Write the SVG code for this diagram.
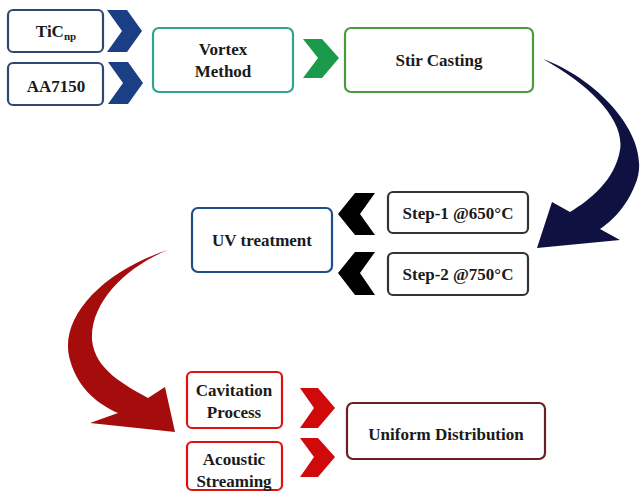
<svg xmlns="http://www.w3.org/2000/svg" width="643" height="492" viewBox="0 0 643 492">
<style>
.box{fill:#fff;stroke-width:2.2}
.t{font-family:"Liberation Serif","DejaVu Serif",serif;font-weight:bold;font-size:17px;fill:#1a1a1a;text-anchor:middle}
</style>
<rect width="643" height="492" fill="#fff"/>
<g id="connectors">
  <polygon points="107,10 127,10 142,31 127,52 107,52 122,31" fill="#1b3f85"/>
  <polygon points="108,62 128,62 143,83 128,104 108,104 123,83" fill="#1b3f85"/>
  <polygon points="303,39 322,39 339,58 322,78 303,78 318,58" fill="#1a9a4a"/>
  <path d="M543,59 C600,80 655,140 635,185 C625,210 610,222 600,229 L620,240 L537,248 L552,202 L570,212 C590,200 615,180 620,150 C625,120 590,85 543,59 Z" fill="#0f1240"/>
  <polygon points="375,193 355,193 338,214 355,235 375,235 360,214" fill="#000"/>
  <polygon points="375,252 355,252 338,273 355,295 375,295 360,273" fill="#000"/>
  <path d="M168,250 C100,272 58,320 70,360 C78,390 100,405 118,413 L90,423 L175,432 L165,387 L148,398 C125,385 95,370 92,340 C90,300 130,265 168,250 Z" fill="#a50d0d"/>
  <polygon points="300,388 318,388 335,408 318,428 300,428 314,408" fill="#d00a0a"/>
  <polygon points="300,438 318,438 335,457 318,477 300,477 314,457" fill="#d00a0a"/>
</g>
<g id="tic">
  <rect class="box" x="8" y="10" width="95" height="42" rx="5" stroke="#2d4a6e"/>
  <text class="t" x="56" y="37">TiC<tspan font-size="11" dy="3">np</tspan></text>
</g>
<g id="aa7150">
  <rect class="box" x="8" y="63" width="95" height="42" rx="5" stroke="#2d4a6e"/>
  <text class="t" x="56" y="92">AA7150</text>
</g>
<g id="vortex">
  <rect class="box" x="153" y="28" width="140" height="64" rx="6" stroke="#2ea58e"/>
  <text class="t" x="223" y="55">Vortex</text>
  <text class="t" x="223" y="77">Method</text>
</g>
<g id="stir">
  <rect class="box" x="345" y="28" width="188" height="64" rx="6" stroke="#4c9a3a"/>
  <text class="t" x="439" y="66">Stir Casting</text>
</g>
<g id="step1">
  <rect class="box" x="388" y="192" width="140" height="41" rx="5" stroke="#333"/>
  <text class="t" x="458" y="219">Step-1 @650°C</text>
</g>
<g id="step2">
  <rect class="box" x="388" y="253" width="140" height="42" rx="5" stroke="#333"/>
  <text class="t" x="458" y="280">Step-2 @750°C</text>
</g>
<g id="uv">
  <rect class="box" x="192" y="208" width="140" height="64" rx="6" stroke="#1f4e8c" stroke-width="2.8"/>
  <text class="t" x="262" y="246">UV treatment</text>
</g>
<g id="cavitation">
  <rect class="box" x="187" y="372" width="95" height="56" rx="5" stroke="#e01010" stroke-width="2.6"/>
  <text class="t" x="234" y="396">Cavitation</text>
  <text class="t" x="234" y="418">Process</text>
</g>
<g id="acoustic">
  <rect class="box" x="187" y="442" width="95" height="48" rx="5" stroke="#e01010" stroke-width="2.6"/>
  <text class="t" x="234" y="465">Acoustic</text>
  <text class="t" x="234" y="487">Streaming</text>
</g>
<g id="uniform">
  <rect class="box" x="347" y="403" width="198" height="56" rx="6" stroke="#6a1f24"/>
  <text class="t" x="446" y="440">Uniform Distribution</text>
</g>
</svg>
